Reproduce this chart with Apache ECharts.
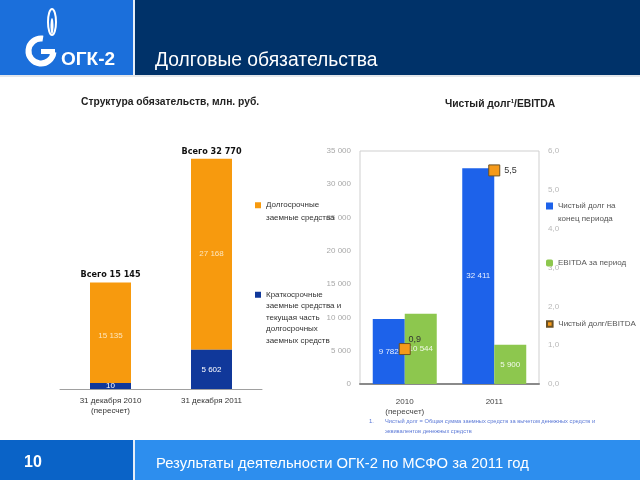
<!DOCTYPE html>
<html>
<head>
<meta charset="utf-8">
<script src="https://cdn.jsdelivr.net/npm/echarts@6/dist/echarts.min.js"></script>
<style>
html,body{margin:0;padding:0;background:#fff;}
#c{width:640px;height:480px;}
</style>
</head>
<body>
<div id="c"></div>
<script>
// ---- Data: left chart (structure of liabilities, mln RUB)
var catsLeft = ['31 декабря 2010\n(пересчет)', '31 декабря 2011'];
var shortTerm = [10, 5602];
var longTerm = [15135, 27168];
var seriesNamesLeft = ['Долгосрочные\nзаемные средства', 'Краткосрочные\nзаемные средства и\nтекущая часть\nдолгосрочных\nзаемных средств'];

// ---- Data: right chart (net debt / EBITDA)
var catsRight = ['2010\n(пересчет)', '2011'];
var netDebt = [9782, 32411];
var ebitda = [10544, 5900];
var ratio = [0.9, 5.5];
var seriesNamesRight = ['Чистый долг на\nконец периода', 'EBITDA за период', 'Чистый долг/EBITDA'];
var leftTicks = {min: 0, max: 35000, interval: 5000};
var rightTicks = {min: 0, max: 6, interval: 1};

function fmt(v){ return String(v).replace(/\B(?=(\d{3})+(?!\d))/g, ' '); }
function fmtDec(v){ return Number(v).toFixed(1).replace('.', ','); }

var FONT = '"Liberation Sans", Arial, sans-serif';
var NARROW = '"Liberation Sans Narrow", "Liberation Sans", Arial, sans-serif';

var chart = echarts.init(document.getElementById('c'), null, {renderer: 'canvas'});

// legend whose square icon lines up with the first text line of a multi-line name
function topAlignedLegend(name, left, top, lines, lh, size, color){
  var H = lines * lh;
  var y0 = lh / 2 - size / 2;
  var icon = 'path://M0,0h0.01M0,' + y0 + 'h' + size + 'v' + size + 'h-' + size + 'zM0,' + H + 'h0.01';
  return {data: [{name: name, icon: icon}], left: left, top: top, orient: 'vertical',
    itemWidth: size, itemHeight: H, itemGap: 0, padding: 0,
    textStyle: {fontSize: 8, color: color, fontFamily: NARROW, lineHeight: lh}};
}

var option = {
  animation: false,
  textStyle: {fontFamily: FONT},
  grid: [
    {left: 60, right: 378, top: 143, bottom: 91},
    {left: 360, right: 101, top: 151, bottom: 96, show: true, borderColor: '#cfcfcf', borderWidth: 1, backgroundColor: 'transparent'}
  ],
  xAxis: [
    {gridIndex: 0, type: 'category', data: catsLeft,
     axisLine: {lineStyle: {color: '#a0a0a0', width: 1}}, axisTick: {show: false},
     axisLabel: {color: '#333', fontSize: 8, fontFamily: NARROW, margin: 7, lineHeight: 10}},
    {gridIndex: 1, type: 'category', data: catsRight,
     axisLine: {lineStyle: {color: '#8a8a8a', width: 2}}, axisTick: {show: false},
     axisLabel: {color: '#444', fontSize: 8, fontFamily: NARROW, margin: 13, lineHeight: 10}}
  ],
  yAxis: [
    {gridIndex: 0, type: 'value', min: 0, max: 35000, show: false, splitLine: {show: false}},
    {gridIndex: 1, type: 'value', min: leftTicks.min, max: leftTicks.max, interval: leftTicks.interval,
     axisLine: {show: false}, axisTick: {show: false}, splitLine: {show: false},
     axisLabel: {color: '#a8a8a8', fontSize: 8, margin: 9, formatter: fmt}},
    {gridIndex: 1, type: 'value', position: 'right', min: rightTicks.min, max: rightTicks.max, interval: rightTicks.interval,
     axisLine: {show: false}, axisTick: {show: false}, splitLine: {show: false},
     axisLabel: {color: '#b8b8b8', fontSize: 8, margin: 9, formatter: fmtDec}}
  ],
  legend: [
    topAlignedLegend(seriesNamesLeft[0], 255, 199, 2, 12.5, 6, '#333'),
    topAlignedLegend(seriesNamesLeft[1], 255, 289, 5, 11.5, 6, '#333'),
    topAlignedLegend(seriesNamesRight[0], 546, 199.5, 2, 13, 7, '#555'),
    {data: [seriesNamesRight[1]], left: 546, top: 259, orient: 'vertical', itemWidth: 7, itemHeight: 7, itemGap: 0,
     textStyle: {fontSize: 8, color: '#555', fontFamily: NARROW}, padding: 0},
    {data: [seriesNamesRight[2]], left: 546, top: 320, orient: 'vertical', itemWidth: 7, itemHeight: 7, itemGap: 0,
     textStyle: {fontSize: 8, color: '#555', fontFamily: NARROW}, padding: 0}
  ],
  series: [
    {name: seriesNamesLeft[1], type: 'bar', xAxisIndex: 0, yAxisIndex: 0, stack: 'L', data: shortTerm,
     barWidth: 41, barMinHeight: 6, z: 3,
     itemStyle: {color: '#10389a'},
     label: {show: true, position: 'inside', color: '#fff', fontSize: 8, fontFamily: NARROW, formatter: function(p){ return fmt(p.value); }}},
    {name: seriesNamesLeft[0], type: 'bar', xAxisIndex: 0, yAxisIndex: 0, stack: 'L', data: longTerm,
     barWidth: 41, z: 2,
     itemStyle: {color: '#f79a0e'},
     label: {show: true, position: 'inside', color: '#fde6bd', fontSize: 8, fontFamily: NARROW, formatter: function(p){ return fmt(p.value); }}},
    {name: 'totalsLabel', type: 'bar', xAxisIndex: 0, yAxisIndex: 0, stack: 'L', data: [0, 0],
     barWidth: 41, silent: true, itemStyle: {color: 'transparent'}, legendHoverLink: false,
     label: {show: true, position: 'top', distance: 3, color: '#111', fontSize: 9, fontWeight: 'bold',
       fontFamily: '"DejaVu Sans Condensed", ' + FONT,
       formatter: function(p){ return 'Всего ' + fmt(shortTerm[p.dataIndex] + longTerm[p.dataIndex]); }}},
    {name: seriesNamesRight[0], type: 'bar', xAxisIndex: 1, yAxisIndex: 1, data: netDebt,
     barWidth: 32, barGap: '0%', itemStyle: {color: '#1d62ea'},
     label: {show: true, position: 'inside', color: '#e8efff', fontSize: 8, fontFamily: NARROW, formatter: function(p){ return fmt(p.value); }}},
    {name: seriesNamesRight[1], type: 'bar', xAxisIndex: 1, yAxisIndex: 1, data: ebitda,
     barWidth: 32, barGap: '0%', itemStyle: {color: '#8dc74e'},
     label: {show: true, position: 'inside', color: '#f2faea', fontSize: 8, fontFamily: NARROW, formatter: function(p){ return fmt(p.value); }}},
    {name: seriesNamesRight[2], type: 'line', xAxisIndex: 1, yAxisIndex: 2,
     data: [
       {value: ratio[0], label: {position: 'top', distance: 1, offset: [10, 2]}},
       {value: ratio[1], label: {position: 'right', distance: 4}}
     ],
     symbol: 'rect', symbolSize: 11, z: 5,
     lineStyle: {opacity: 0, width: 0},
     itemStyle: {color: '#f59a1a', borderColor: '#6b5125', borderWidth: 1},
     label: {show: true, fontSize: 9, color: '#333', fontFamily: NARROW,
       formatter: function(p){ return fmtDec(p.value); }}
    }
  ],
  graphic: [
    // header band
    {type: 'rect', shape: {x: 0, y: 0, width: 640, height: 75}, style: {fill: '#003269'}, z: -1},
    {type: 'rect', shape: {x: 0, y: 0, width: 133, height: 75}, style: {fill: '#1b6fdb'}, z: -1},
    {type: 'rect', shape: {x: 133, y: 0, width: 2, height: 75}, style: {fill: '#e6eef8'}, z: -1},
    {type: 'rect', shape: {x: 0, y: 75, width: 640, height: 2}, style: {fill: '#e3e6ea'}, z: -1},
    // logo
    {type: 'arc', shape: {cx: 41, cy: 51, r: 12.5, startAngle: 0.1, endAngle: Math.PI * 1.55, clockwise: true},
     style: {stroke: '#fff', lineWidth: 6, fill: null}},
    {type: 'rect', shape: {x: 41, y: 49, width: 14, height: 5}, style: {fill: '#fff'}},
    {type: 'ellipse', shape: {cx: 52, cy: 22, rx: 4, ry: 13}, style: {stroke: '#fff', lineWidth: 2, fill: null}},
    {type: 'ellipse', shape: {cx: 52, cy: 26, rx: 1.5, ry: 8}, style: {fill: '#fff'}},
    {type: 'text', x: 61, y: 50, style: {text: 'ОГК-2', fill: '#fff', font: 'bold 19px ' + NARROW}},
    {type: 'text', x: 155, y: 51, style: {text: 'Долговые обязательства', fill: '#fff', font: '19.3px ' + NARROW}},
    // chart titles
    {type: 'text', x: 81, y: 97, style: {text: 'Структура обязательств, млн. руб.', fill: '#222', font: 'bold 10.3px ' + FONT}},
    {type: 'text', x: 445, y: 98, style: {rich: {a: {font: 'bold 10.3px ' + FONT, fill: '#222'}, s: {font: 'bold 6px ' + FONT, fill: '#222', verticalAlign: 'top', padding: [0, 0, 6, 0]}},
      text: '{a|Чистый долг}{s|1}{a|/EBITDA}'}},
    // footnote
    {type: 'text', x: 369, y: 418, style: {text: '1.', fill: '#5a78d6', font: '6px ' + FONT}},
    {type: 'text', x: 385, y: 416, style: {text: 'Чистый долг = Общая сумма заемных средств за вычетом денежных средств и\nэквивалентов денежных средств', fill: '#5a78d6', font: '5.7px ' + FONT, lineHeight: 10}},
    // footer band
    {type: 'rect', shape: {x: 0, y: 440, width: 640, height: 40}, style: {fill: '#2d8eee'}, z: -1},
    {type: 'rect', shape: {x: 0, y: 440, width: 133, height: 40}, style: {fill: '#0a63c7'}, z: -1},
    {type: 'rect', shape: {x: 133, y: 440, width: 2, height: 40}, style: {fill: '#e6eef8'}, z: -1},
    {type: 'text', x: 24, y: 455, style: {text: '10', fill: '#fff', font: 'bold 16px ' + FONT}},
    {type: 'text', x: 156, y: 456, style: {text: 'Результаты деятельности ОГК-2 по МСФО за 2011 год', fill: '#fff', font: '14.8px ' + NARROW}}
  ]
};
chart.setOption(option);
</script>
</body>
</html>
